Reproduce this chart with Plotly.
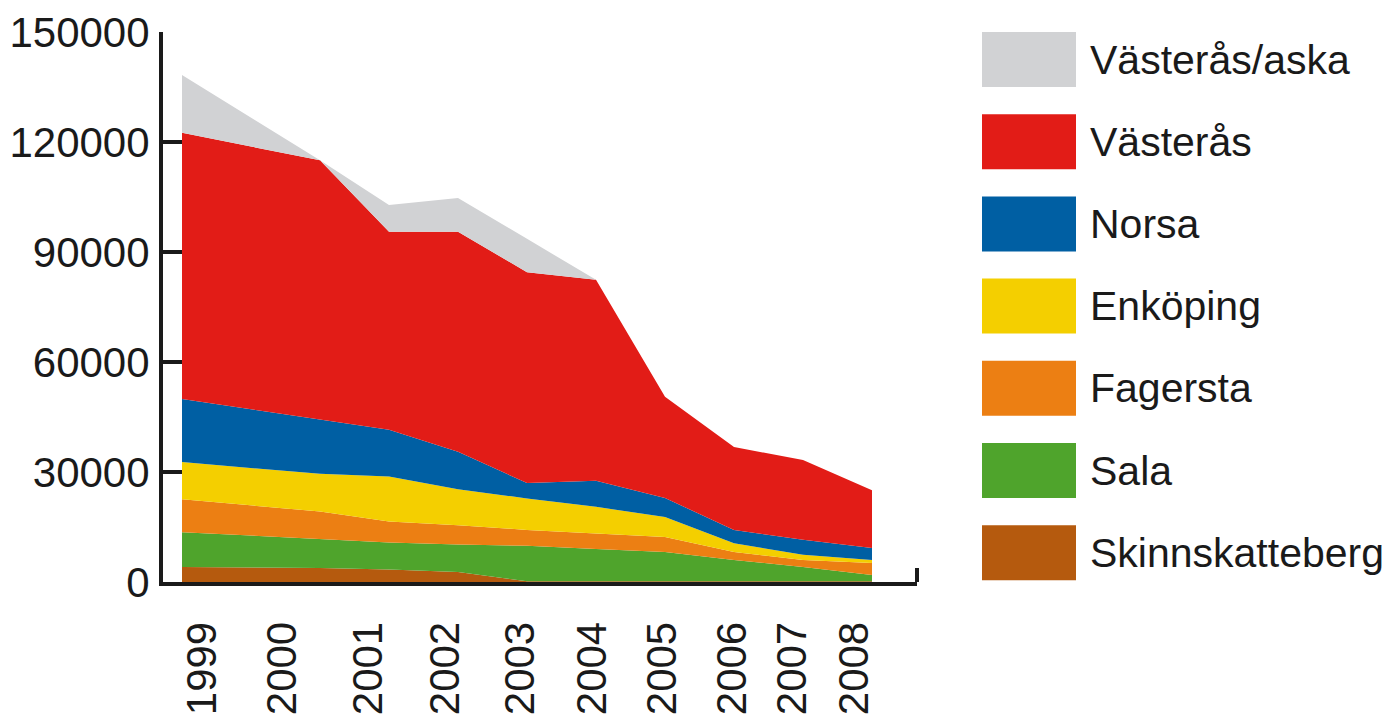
import plotly.graph_objects as go

# Sample positions on the time axis and values
x_year = [1998, 2000, 2001, 2002, 2003, 2004, 2005, 2006, 2007, 2008]
tick_labels = ["1999", "2000", "2001", "2002", "2003", "2004", "2005", "2006", "2007", "2008"]
tick_year = [1998.29, 1999.46, 2000.70, 2001.81, 2002.90, 2003.94, 2004.96, 2005.97, 2006.84, 2007.75]

skinnskatteberg = [4100, 3800, 3400, 2700, 200, 200, 200, 200, 200, 200]
sala = [9500, 8000, 7400, 7500, 9700, 8800, 8000, 5800, 3900, 1700]
fagersta = [9000, 7400, 5700, 5300, 4300, 4300, 4100, 2200, 1900, 3300]
enkoping = [10100, 10300, 12300, 9800, 8600, 7200, 5400, 2400, 1400, 800]
norsa = [17200, 14700, 12700, 10200, 4200, 7100, 5200, 3600, 4100, 3300]
vasteras = [72600, 70800, 54000, 60000, 57500, 54800, 27600, 22600, 21800, 15700]
vasteras_aska = [15800, 0, 7300, 9200, 9100, 0, 0, 0, 0, 0]

y_ticks = [0, 30000, 60000, 90000, 120000, 150000]

series = [
    ("Skinnskatteberg", skinnskatteberg, "#b55a0e"),
    ("Sala", sala, "#4fa42c"),
    ("Fagersta", fagersta, "#ec7f13"),
    ("Enköping", enkoping, "#f4cf00"),
    ("Norsa", norsa, "#005fa3"),
    ("Västerås", vasteras, "#e21c17"),
    ("Västerås/aska", vasteras_aska, "#d1d2d4"),
]

FONT = "Liberation Sans, Arial, sans-serif"
INK = "#1a1a1a"

fig = go.Figure()
for name, vals, col in series:
    fig.add_trace(go.Scatter(
        x=x_year, y=vals, name=name, stackgroup="one", mode="lines",
        line=dict(width=0, color=col), fillcolor=col, showlegend=False,
    ))

# page body has an 8px margin; size the figure to fit the window exactly
OFF = 8
W, H = 1390 - OFF, 726 - OFF
ml, mt = 163 - OFF, 32 - OFF
pw, ph = 754, 550
mr, mb = W - ml - pw, H - mt - ph

px_per_year = 69.0
x_left = 1998 - 19 / px_per_year
x_right = x_left + pw / px_per_year

fig.update_layout(
    width=W, height=H,
    margin=dict(l=ml, r=mr, t=mt, b=mb, pad=0, autoexpand=False),
    paper_bgcolor="white", plot_bgcolor="white",
    font=dict(family=FONT, color=INK),
    xaxis=dict(
        range=[x_left, x_right], showgrid=False, zeroline=False, automargin=False,
        showline=True, linecolor=INK, linewidth=4,
        tickmode="array", tickvals=tick_year, ticktext=tick_labels,
        tickangle=-90, ticks="", tickfont=dict(size=42, family=FONT, color=INK),
        ticklabelstandoff=19,
    ),
    yaxis=dict(
        range=[0, 150000], showgrid=False, zeroline=False, automargin=False,
        showline=True, linecolor=INK, linewidth=4,
        tickmode="array", tickvals=y_ticks, ticktext=[str(v) for v in y_ticks],
        ticks="inside", ticklen=19, tickwidth=4, tickcolor=INK,
        tickfont=dict(size=42, family=FONT, color=INK),
        ticklabelstandoff=1,
    ),
)

# right-end tick of the x axis
fig.add_shape(type="line", xref="paper", yref="paper", x0=1, x1=1, y0=0, y1=14 / ph,
              line=dict(color=INK, width=4))

# manual legend (top entry first); page pixel positions converted to paper units
sw_x0, sw_x1, txt_x = 982 - OFF, 1076 - OFF, 1088 - OFF
top0, step, sw_h = 32 - OFF, 82.2, 55
for i, (name, vals, col) in enumerate(reversed(series)):
    top = top0 + i * step
    fig.add_shape(type="rect", xref="paper", yref="paper",
                  x0=(sw_x0 - ml) / pw, x1=(sw_x1 - ml) / pw,
                  y0=(mt + ph - top) / ph, y1=(mt + ph - top - sw_h) / ph,
                  line=dict(width=0), fillcolor=col)
    fig.add_annotation(xref="paper", yref="paper", x=(txt_x - ml) / pw,
                       y=(mt + ph - top - sw_h / 2) / ph,
                       text=name, showarrow=False, xanchor="left", yanchor="middle",
                       font=dict(size=41, family=FONT, color=INK))

fig.write_html("out.html")
